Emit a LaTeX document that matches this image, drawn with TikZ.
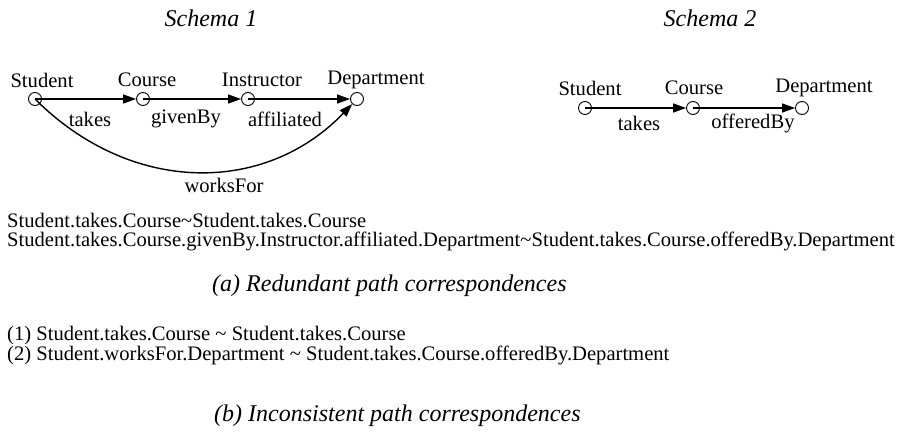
\documentclass[tikz,border=0pt]{standalone}
\usepackage{fontspec}
\setmainfont{Liberation Serif}
\usetikzlibrary{arrows.meta}
\begin{document}
\begin{tikzpicture}[x=1pt,y=-1pt,
  vert/.style={circle,draw,line width=0.9pt,minimum size=13pt,inner sep=0pt,fill=white},
  lbl/.style={inner sep=0pt,font=\fontsize{20.6}{24}\selectfont},
  txt/.style={inner sep=0pt,anchor=west,font=\fontsize{20.6}{24}\selectfont},
  captxt/.style={inner sep=0pt,font=\fontsize{24}{28}\selectfont\itshape},
  arr/.style={line width=1.4pt,-{Triangle[length=13pt,width=9pt]}}]
\useasboundingbox (0,0) rectangle (904,436);
% titles
\node[captxt] (t1) at (211,18) {Schema 1};
\node[captxt] (t2) at (710,18) {Schema 2};
% schema 1
\node[vert] (s1) at (35,99) {};
\node[vert] (c1) at (143,99) {};
\node[vert] (i1) at (248,99) {};
\node[vert] (d1) at (357,99) {};
\node[lbl] (ls1) at (42,80) {Student};
\node[lbl] (lc1) at (147,80) {Course};
\node[lbl] (li1) at (262,80) {Instructor};
\node[lbl] (ld1) at (376,80) {Department};
\draw[arr] (s1.center) -- (c1);
\draw[arr] (c1.center) -- (i1);
\draw[arr] (i1.center) -- (d1);
\draw[arr] (s1.center) .. controls (131,195) and (265,195) .. (d1);
\node[lbl] (e1) at (90,119) {takes};
\node[lbl] (e2) at (186,119) {givenBy};
\node[lbl] (e3) at (285,119) {affiliated};
\node[lbl] (e4) at (224,185) {worksFor};
% schema 2
\node[vert] (s2) at (585,108) {};
\node[vert] (c2) at (693,108) {};
\node[vert] (d2) at (802,108) {};
\node[lbl] (ls2) at (590,88) {Student};
\node[lbl] (lc2) at (694,88) {Course};
\node[lbl] (ld2) at (824,88) {Department};
\draw[arr] (s2.center) -- (c2);
\draw[arr] (c2.center) -- (d2);
\node[lbl] (f1) at (639,123) {takes};
\node[lbl] (f2) at (753,123) {offeredBy};
% text
\node[txt] (l1) at (7,220) {Student.takes.Course\char"007E Student.takes.Course};
\node[txt] (l2) at (7,241) {Student.takes.Course.givenBy.Instructor.affiliated.Department\char"007E Student.takes.Course.offeredBy.Department};
\node[captxt,anchor=west] (ca) at (212,286) {(a) Redundant path correspondences};
\node[txt] (l3) at (7,336) {(1) Student.takes.Course \char"007E{} Student.takes.Course};
\node[txt] (l4) at (7,355.5) {(2) Student.worksFor.Department \char"007E{} Student.takes.Course.offeredBy.Department};
\node[captxt,anchor=west] (cb) at (214,416) {(b) Inconsistent path correspondences};
\end{tikzpicture}
\end{document}
